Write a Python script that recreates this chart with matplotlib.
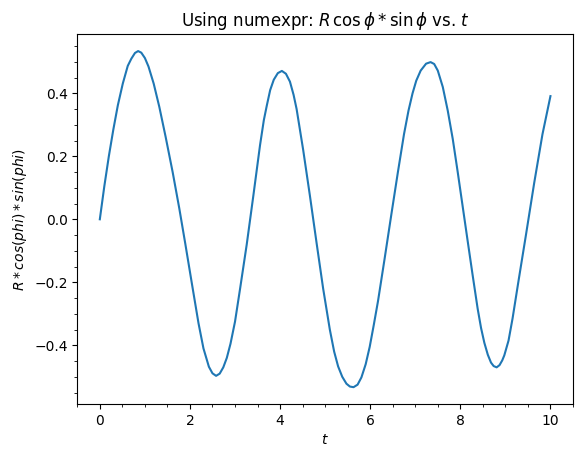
import matplotlib
matplotlib.use("Agg")
import matplotlib.pyplot as plt

t = [0.0, 0.1, 0.2, 0.3, 0.4, 0.51, 0.62, 0.7, 0.78, 0.85, 0.92, 1.0,
     1.08, 1.195, 1.32, 1.46, 1.616, 1.763, 1.896, 2.044, 2.19, 2.3, 2.42, 2.5,
     2.58, 2.66, 2.74, 2.818, 2.9, 3.0, 3.113, 3.26, 3.407, 3.555, 3.64, 3.704,
     3.78, 3.86, 3.95, 4.04, 4.13, 4.219, 4.3, 4.367, 4.513, 4.662, 4.81, 4.956,
     5.104, 5.2, 5.288, 5.38, 5.473, 5.55, 5.63, 5.72, 5.805, 5.9, 5.989, 6.08,
     6.173, 6.32, 6.469, 6.615, 6.75, 6.85, 6.94, 7.022, 7.12, 7.24, 7.34, 7.42,
     7.5, 7.611, 7.721, 7.832, 7.942, 8.053, 8.164, 8.274, 8.385, 8.46, 8.533, 8.61,
     8.681, 8.74, 8.806, 8.87, 8.93, 8.976, 9.07, 9.159, 9.292, 9.456, 9.639, 9.823,
     10.0]
r_cos_sin = [0.0, 0.105, 0.2, 0.285, 0.362, 0.431, 0.487, 0.510, 0.528, 0.534, 0.529, 0.512,
             0.485, 0.431, 0.357, 0.262, 0.15, 0.035, -0.077, -0.205, -0.33, -0.41, -0.468, -0.489,
             -0.497, -0.490, -0.470, -0.440, -0.395, -0.325, -0.22, -0.08, 0.075, 0.235, 0.315, 0.36,
             0.41, 0.443, 0.464, 0.471, 0.462, 0.437, 0.395, 0.35, 0.22, 0.075, -0.075, -0.22,
             -0.35, -0.42, -0.467, -0.5, -0.522, -0.531, -0.533, -0.525, -0.502, -0.46, -0.405, -0.335,
             -0.26, -0.125, 0.015, 0.15, 0.27, 0.345, 0.40, 0.44, 0.472, 0.494, 0.499, 0.493,
             0.472, 0.42, 0.345, 0.255, 0.15, 0.04, -0.07, -0.178, -0.284, -0.345, -0.392, -0.43,
             -0.455, -0.466, -0.470, -0.463, -0.448, -0.432, -0.385, -0.315, -0.195, -0.05, 0.115, 0.27,
             0.391]

fig = plt.figure(figsize=(5.82, 4.57), dpi=100)
ax = fig.add_axes([0.1328, 0.116, 0.9845 - 0.1328, 0.925 - 0.116])
ax.plot(t, r_cos_sin, color="#1f77b4", lw=1.5)
ax.minorticks_on()
ax.set_title(r"Using numexpr: $R\,\cos\phi * \sin\phi$ vs. $t$")
ax.set_xlabel(r"$t$")
ax.set_ylabel(r"$R*cos(phi)*sin(phi)$")
fig.savefig("out.png", dpi=100)
